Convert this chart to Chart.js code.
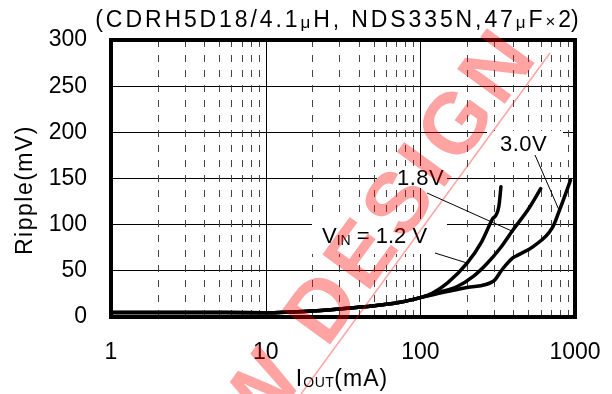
<!DOCTYPE html>
<html>
<head>
<meta charset="utf-8">
<script src="https://cdn.jsdelivr.net/npm/chart.js@4"></script>
<style>
  html, body { margin: 0; padding: 0; background: #fff; }
</style>
</head>
<body>
<canvas id="chart" width="612" height="394"></canvas>
<script>
// ── Data ──────────────────────────────────────────────────────────
const xTicks = [1, 10, 100, 1000];
const yTicks = [0, 50, 100, 150, 200, 250, 300];

// VIN = 1.2 V
const iout12   = [1, 3, 10, 20, 37, 55, 74, 100, 120, 150, 200, 250, 290, 322, 332];
const ripple12 = [5, 5, 4.5, 6.5, 10, 13, 16, 21, 26, 37, 58, 82, 105, 120, 141];
// VIN = 1.8 V
const iout18   = [1, 3, 10, 20, 37, 55, 74, 100, 134, 173, 220, 270, 330, 396, 500, 600];
const ripple18 = [5, 5, 4.5, 6.5, 10, 13, 16, 21, 27, 33, 44, 58, 75, 94, 117, 139];
// VIN = 3.0 V
const iout30   = [1, 3, 10, 20, 37, 55, 74, 100, 134, 200, 298, 340, 396, 427, 533, 716, 795, 935];
const ripple30 = [5, 5, 4.5, 6.5, 10, 13, 16, 21, 26, 32, 39, 52, 64, 67, 76, 97, 116, 148];

const FONT = '"Liberation Sans", Arial, sans-serif';
const RED = 'rgba(255,0,0,0.36)';

// ── Text helpers (runs of differently sized text) ─────────────────
function runsWidth(ctx, runs) {
  let w = 0;
  for (const r of runs) {
    ctx.font = r.font;
    ctx.letterSpacing = r.ls || '0px';
    w += ctx.measureText(r.t).width;
  }
  return w;
}
function drawRuns(ctx, runs, x, y, align) {
  const w = runsWidth(ctx, runs);
  let cx = align === 'center' ? x - w / 2 : align === 'right' ? x - w : x;
  ctx.textAlign = 'left';
  ctx.textBaseline = 'alphabetic';
  for (const r of runs) {
    ctx.font = r.font;
    ctx.letterSpacing = r.ls || '0px';
    ctx.fillText(r.t, cx, y + (r.dy || 0));
    cx += ctx.measureText(r.t).width;
  }
  ctx.letterSpacing = '0px';
}
const big = '23px ' + FONT, mid = '22px ' + FONT, small = '14px ' + FONT, sym = '17px ' + FONT;

// ── Log grid, frame, labels, watermark ────────────────────────────
const decades = [1, 10, 100];
const minorX = decades.flatMap(d => [2, 3, 4, 5, 6, 7, 8, 9].map(m => m * d));
const majorX = [10, 100];

const decorPlugin = {
  id: 'decor',
  beforeDatasetsDraw(chart) {
    const { ctx, chartArea: a, scales: { x } } = chart;
    ctx.save();
    ctx.lineWidth = 1;
    ctx.strokeStyle = '#444';
    ctx.setLineDash([7, 8]);
    for (const v of minorX) {
      const px = Math.round(x.getPixelForValue(v)) + 0.5;
      ctx.beginPath(); ctx.moveTo(px, a.top); ctx.lineTo(px, a.bottom); ctx.stroke();
    }
    ctx.setLineDash([]);
    ctx.strokeStyle = '#000';
    for (const v of majorX) {
      const px = Math.round(x.getPixelForValue(v)) + 0.5;
      ctx.beginPath(); ctx.moveTo(px, a.top); ctx.lineTo(px, a.bottom); ctx.stroke();
    }
    // white boxes behind the curve labels
    ctx.fillStyle = '#fff';
    ctx.fillRect(312, 219, 135, 35);
    ctx.fillRect(377, 166, 70, 22);
    ctx.fillRect(487, 131, 76, 31);
    ctx.restore();
  },
  afterDatasetsDraw(chart) {
    const { ctx, chartArea: a } = chart;
    ctx.save();
    // frame
    ctx.lineWidth = 4;
    ctx.strokeStyle = '#000';
    ctx.strokeRect(a.left, a.top, a.right - a.left, a.bottom - a.top);

    ctx.fillStyle = '#000';
    // title
    const ls = '2.9px';
    drawRuns(ctx, [
      { t: '(CDRH5D18/4.1', font: big, ls },
      { t: 'μ', font: sym, ls, dy: 1 },
      { t: 'H, NDS335N,47', font: big, ls },
      { t: 'μ', font: sym, ls, dy: 1 },
      { t: 'F', font: big, ls },
      { t: '×', font: sym, ls },
      { t: '2)', font: big, ls: '0px' }
    ], 337, 27, 'center');

    // axis titles
    drawRuns(ctx, [
      { t: 'I', font: big, ls: '1px' },
      { t: 'OUT', font: small, ls: '0.5px', dy: 1 },
      { t: '(mA)', font: big, ls: '1px' }
    ], 342, 386, 'center');
    ctx.save();
    ctx.translate(32, 190);
    ctx.rotate(-Math.PI / 2);
    drawRuns(ctx, [{ t: 'Ripple(mV)', font: big, ls: '1.5px' }], 0, 0, 'center');
    ctx.restore();

    // curve labels
    drawRuns(ctx, [
      { t: 'V', font: mid },
      { t: 'IN', font: small, dy: 2 },
      { t: ' = 1.2 V', font: mid }
    ], 322, 243, 'left');
    drawRuns(ctx, [{ t: '1.8V', font: mid, ls: '0.5px' }], 397, 185, 'left');
    drawRuns(ctx, [{ t: '3.0V', font: mid, ls: '0.5px' }], 500, 151, 'left');

    // leader lines
    ctx.lineWidth = 1;
    ctx.strokeStyle = '#000';
    for (const [x1, y1, x2, y2] of [[435, 253, 467, 263], [427, 193, 514, 232], [535, 155, 559, 210]]) {
      ctx.beginPath(); ctx.moveTo(x1, y1); ctx.lineTo(x2, y2); ctx.stroke();
    }
    ctx.restore();
  },
  afterDraw(chart) {
    const { ctx } = chart;
    ctx.save();
    ctx.fillStyle = RED;
    ctx.strokeStyle = RED;
    ctx.lineWidth = 1.5;
    ctx.beginPath(); ctx.moveTo(550, 53); ctx.lineTo(301, 394); ctx.stroke();

    const size = 86;
    ctx.font = 'bold ' + size + 'px ' + FONT;
    const wD = ctx.measureText('D').width;
    ctx.translate(320, 306);
    ctx.rotate(-54 * Math.PI / 180);
    ctx.letterSpacing = '6px';
    ctx.textBaseline = 'alphabetic';
    const base = size * 0.716 / 2;
    ctx.textAlign = 'left';
    ctx.fillText('DESIGN', -wD / 2, base);
    ctx.textAlign = 'right';
    ctx.fillText('NEW ', -wD / 2, base);
    ctx.restore();
  }
};

// ── Chart ─────────────────────────────────────────────────────────
const toPoints = (xs, ys) => xs.map((x, i) => ({ x, y: ys[i] }));
const lineStyle = {
  borderColor: '#000',
  borderWidth: 3.5,
  pointRadius: 0,
  cubicInterpolationMode: 'monotone',
  borderCapStyle: 'round',
  borderJoinStyle: 'round',
  fill: false
};

new Chart(document.getElementById('chart').getContext('2d'), {
  type: 'line',
  data: {
    datasets: [
      { label: '1.2 V', data: toPoints(iout12, ripple12), ...lineStyle },
      { label: '1.8 V', data: toPoints(iout18, ripple18), ...lineStyle },
      { label: '3.0 V', data: toPoints(iout30, ripple30), ...lineStyle }
    ]
  },
  options: {
    responsive: false,
    animation: false,
    layout: { padding: { top: 40, right: 37, left: 0, bottom: 0 } },
    plugins: { legend: { display: false }, tooltip: { enabled: false } },
    scales: {
      x: {
        type: 'logarithmic',
        min: 1, max: 1000,
        afterBuildTicks: s => { s.ticks = xTicks.map(v => ({ value: v })); },
        afterFit: s => { s.height = 77; s.paddingLeft = 0; s.paddingRight = 0; },
        grid: { display: false, drawTicks: false },
        border: { display: false },
        ticks: {
          color: '#000', padding: 22, maxRotation: 0,
          font: { family: FONT, size: 23 },
          callback: v => String(v)
        }
      },
      y: {
        min: 0, max: 300,
        afterBuildTicks: s => { s.ticks = yTicks.map(v => ({ value: v })); },
        afterFit: s => { s.width = 111; s.paddingTop = 0; s.paddingBottom = 0; },
        grid: { color: '#000', lineWidth: 1, drawTicks: false },
        border: { display: false },
        ticks: {
          color: '#000', padding: 24,
          font: { family: FONT, size: 23 }
        }
      }
    }
  },
  plugins: [decorPlugin]
});
</script>
</body>
</html>
